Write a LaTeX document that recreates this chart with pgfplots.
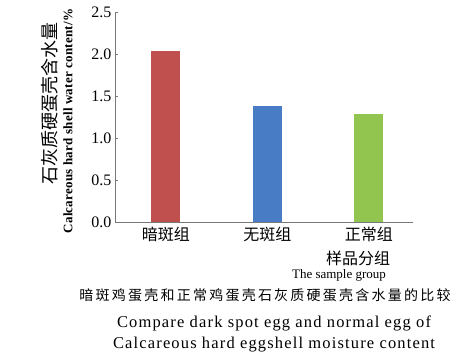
\documentclass[border=0pt]{standalone}
\usepackage{pgfplots}
\pgfplotsset{compat=1.18}
\usepackage{fontspec}
\setmainfont{Liberation Serif}
\newfontfamily\cjk{Noto Sans CJK SC}
\newfontfamily\cjkwide[LetterSpace=16]{Noto Sans CJK SC}
\newfontfamily\serifwide[LetterSpace=7]{Liberation Serif}
\newfontfamily\serifnarrow[LetterSpace=2]{Liberation Serif}
\definecolor{cred}{RGB}{192,80,77}
\definecolor{cblue}{RGB}{72,125,198}
\definecolor{cgreen}{RGB}{146,196,80}
\definecolor{axgray}{RGB}{120,120,120}
\begin{document}
\begin{tikzpicture}[x=1bp,y=1bp]
\path[use as bounding box] (0,0) rectangle (466,357);
\begin{axis}[
  at={(115bp,135bp)}, anchor=south west,
  scale only axis, width=298bp, height=210bp,
  xmin=-0.5, xmax=2.436, ymin=0, ymax=2.5,
  axis x line*=bottom, axis y line*=left,
  axis line style={axgray, line width=0.8pt},
  xtick={0,1,2},
  xticklabels={{\cjk 暗斑组},{\cjk 无斑组},{\cjk 正常组}},
  x tick label style={font=\fontsize{16bp}{18bp}\selectfont, yshift=1bp},
  extra x ticks={0.5,1.5}, extra x tick labels={},
  extra x tick style={major tick length=3bp, tick style={axgray}},
  major x tick style={draw=none},
  ytick={0,0.5,1,1.5,2,2.5},
  yticklabel style={/pgf/number format/fixed, /pgf/number format/fixed zerofill, /pgf/number format/precision=1, font=\fontsize{16bp}{17bp}\selectfont},
  /pgf/number format/assume math mode=true,
  tick align=inside, major tick length=3bp,
  tick style={axgray},
  ybar, bar width=29bp, bar shift=0pt,
]
\addplot[fill=cred, draw=none] coordinates {(0,2.04)};
\addplot[fill=cblue, draw=none] coordinates {(1,1.38)};
\addplot[fill=cgreen, draw=none] coordinates {(2,1.29)};
\end{axis}
\node[rotate=90, font=\fontsize{18bp}{20bp}\cjk] at (50,254) {石灰质硬蛋壳含水量};
\node[rotate=90, font=\fontsize{13bp}{14bp}\serifnarrow\bfseries] at (68,236) {Calcareous hard shell water content/\%};
\node[font=\fontsize{16bp}{18bp}\cjk] at (358,99) {样品分组};
\node[font=\fontsize{13bp}{14bp}\selectfont] at (339,82) {The sample group};
\node[font=\fontsize{14bp}{16bp}\cjkwide] at (265,62) {暗斑鸡蛋壳和正常鸡蛋壳石灰质硬蛋壳含水量的比较};
\node[font=\fontsize{16.5bp}{18bp}\serifwide] at (274,34) {Compare dark spot egg and normal egg of};
\node[font=\fontsize{16.5bp}{18bp}\serifwide] at (274,12) {Calcareous hard eggshell moisture content};
\end{tikzpicture}
\end{document}
